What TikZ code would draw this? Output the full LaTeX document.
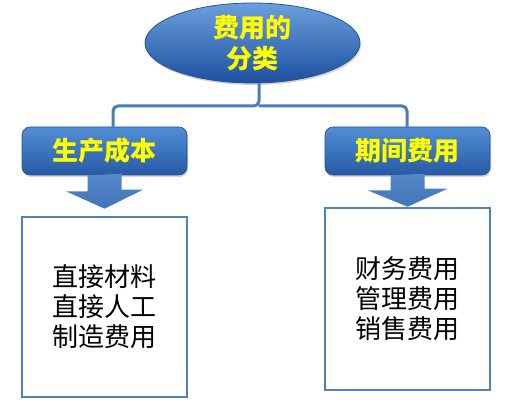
\documentclass[tikz,border=0pt]{standalone}
\usepackage{fontspec}
\newfontfamily\cjk{Noto Sans CJK SC}
\usetikzlibrary{shapes.geometric,shadows}
\pgfdeclarelayer{background}
\pgfsetlayers{background,main}
\definecolor{linkblue}{RGB}{74,126,187}
\definecolor{boxtop}{RGB}{82,142,214}
\definecolor{boxbot}{RGB}{38,90,165}
\definecolor{ellbot}{RGB}{28,80,160}
\definecolor{ellborder}{RGB}{40,84,150}
\definecolor{framecol}{RGB}{79,129,189}
\definecolor{arrtop}{RGB}{84,136,200}
\definecolor{arrbot}{RGB}{66,116,185}
\definecolor{ytext}{RGB}{255,255,0}
\tikzset{
  rootnode/.style={ellipse, minimum width=215pt, minimum height=80pt, inner sep=0pt,
    top color=boxtop!85!white, bottom color=ellbot, draw=ellborder, line width=0.8pt,
    drop shadow={opacity=0.35, shadow xshift=1pt, shadow yshift=-2pt},
    font=\cjk\bfseries\fontsize{26}{31}\selectfont, text=ytext, align=center},
  headbox/.style={rectangle, rounded corners=8pt, minimum width=165pt, minimum height=48pt,
    inner sep=0pt, top color=boxtop, bottom color=boxbot, draw=boxbot!90!black, line width=0.6pt,
    drop shadow={opacity=0.35, shadow xshift=1pt, shadow yshift=-2pt},
    font=\cjk\bfseries\fontsize{26}{31}\selectfont, text=ytext},
  listbox/.style={rectangle, minimum width=165pt, inner sep=0pt, fill=white,
    draw=framecol, line width=2.6pt,
    font=\cjk\fontsize{26}{30}\selectfont, text=black, align=center},
  link/.style={draw=linkblue, line width=3pt, rounded corners=5pt},
  bigarrow/.style={top color=arrtop, bottom color=arrbot, draw=none}
}
\begin{document}
\begin{tikzpicture}[x=1pt,y=-1pt]
\useasboundingbox (0,0) rectangle (525,406);
\node[rootnode] (root) at (252.5,43) {费用的\\分类};
\node[headbox] (h1) at (104.5,151) {生产成本};
\node[headbox] (h2) at (407.5,151) {期间费用};
\node[listbox, minimum height=180pt] (c1) at (104.5,307) {直接材料\\直接人工\\制造费用};
\node[listbox, minimum height=182pt] (c2) at (407.5,299) {财务费用\\管理费用\\销售费用};
\coordinate (j) at (259,106);
\coordinate (jl) at (113,106);
\coordinate (jr) at (407,106);
\begin{pgfonlayer}{background}
\draw[link] (j |- root.south) -- (j) -- (jl) -- (jl |- h1.north);
\draw[link] (j) -- (jr) -- (jr |- h2.north);
\end{pgfonlayer}
% block arrows
\coordinate (t1) at ([yshift=7pt]c1.north);
\path[bigarrow] ([xshift=-17pt]h1.south) -- ++(0,16) -- ++(-21.5,0) -- (t1) -- ++(38.5,-19) -- ++(-21.5,0) -- ++(0,-16) -- cycle;
\path[bigarrow] ([xshift=-17pt]h2.south) -- ++(0,15) -- ++(-23,0) -- (c2.north) -- ++(40,-18) -- ++(-23,0) -- ++(0,-15) -- cycle;
\end{tikzpicture}
\end{document}
